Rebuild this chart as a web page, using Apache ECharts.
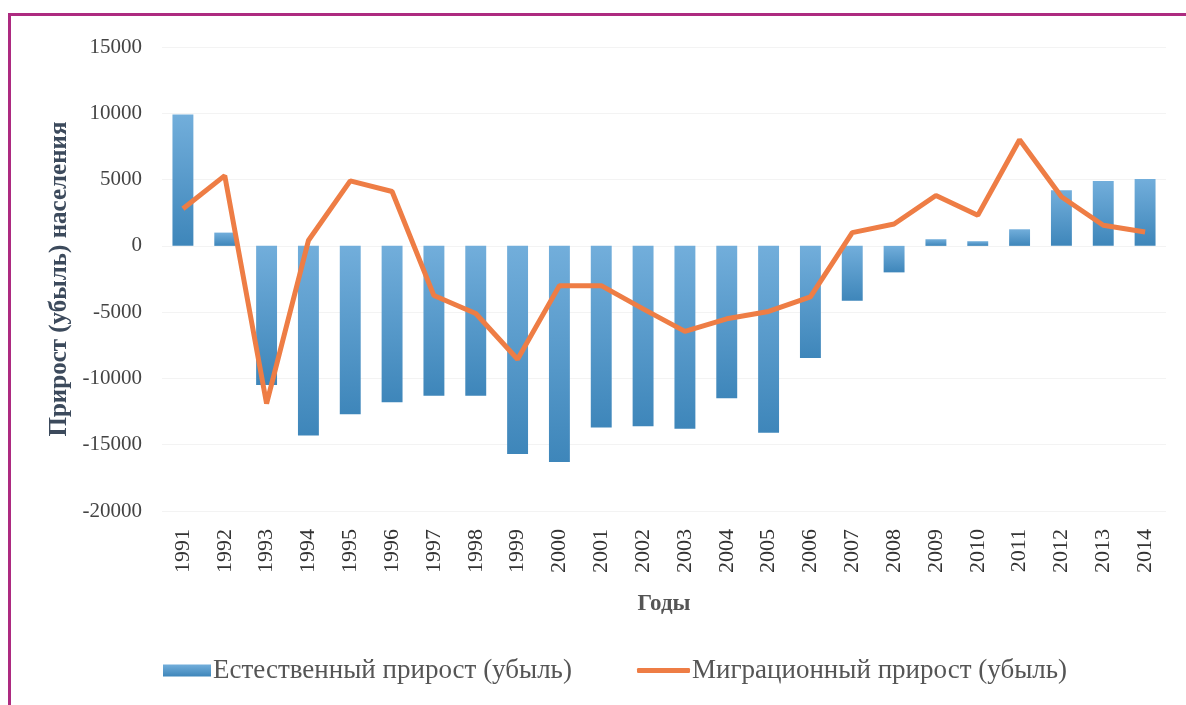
<!DOCTYPE html>
<html>
<head>
<meta charset="utf-8">
<script src="https://cdn.jsdelivr.net/npm/echarts@6/dist/echarts.min.js"></script>
<style>
  html, body { margin: 0; padding: 0; background: #ffffff; overflow: hidden; }
  .frame {
    position: absolute; left: 8px; top: 13px;
    width: 1300px; height: 800px;
    border-top: 3px solid #ad2a80; border-left: 3px solid #ad2a80;
  }
  #main { position: absolute; left: 0; top: 0; width: 1186px; height: 705px; }
</style>
</head>
<body>
<div class="frame"></div>
<div id="main"></div>
<script>
  // годы
  var years = ['1991','1992','1993','1994','1995','1996','1997','1998','1999','2000','2001','2002',
               '2003','2004','2005','2006','2007','2008','2009','2010','2011','2012','2013','2014'];
  // естественный прирост (убыль)
  var natural = [9900, 1000, -10500, -14300, -12700, -11800, -11300, -11300, -15700, -16300, -13700, -13600,
                 -13800, -11500, -14100, -8450, -4150, -2000, 500, 350, 1250, 4200, 4900, 5050];
  // миграционный прирост (убыль)
  var migration = [2800, 5300, -11900, 400, 4900, 4100, -3750, -5100, -8550, -3000, -3000, -4750,
                   -6450, -5500, -4950, -3850, 1000, 1650, 3800, 2300, 8000, 3700, 1550, 1050];

  var font = '"Liberation Serif", "DejaVu Serif", serif';
  var legendText = { fontFamily: font, fontSize: 27, color: '#555555', padding: [0, 0, 0, -3] };

  var myChart = echarts.init(document.getElementById('main'));
  var option = {
    animation: false,
    grid: { left: 162, right: 20, top: 47, bottom: 194 },
    legend: [
      {
        left: 158,
        top: 652,
        itemWidth: 48,
        itemHeight: 12,
        textStyle: legendText,
        data: [{ name: 'Естественный прирост (убыль)', icon: 'rect' }]
      },
      {
        left: 632,
        top: 652,
        itemWidth: 53,
        itemHeight: 5,
        textStyle: legendText,
        data: [{ name: 'Миграционный прирост (убыль)', icon: 'roundRect' }]
      }
    ],
    xAxis: {
      type: 'category',
      data: years,
      name: 'Годы',
      nameLocation: 'middle',
      nameGap: 82,
      nameTextStyle: { fontFamily: font, fontSize: 23, fontWeight: 'bold', color: '#555555' },
      axisLine: { show: false, onZero: false },
      axisTick: { show: false },
      axisLabel: { rotate: 90, fontFamily: font, fontSize: 22, color: '#333333', margin: 18 }
    },
    yAxis: {
      type: 'value',
      min: -20000,
      max: 15000,
      interval: 5000,
      name: 'Прирост (убыль) населения',
      nameLocation: 'middle',
      nameGap: 90,
      nameTextStyle: { fontFamily: font, fontSize: 25, fontWeight: 'bold', color: '#3c4a5c' },
      axisLine: { show: false },
      axisTick: { show: false },
      axisLabel: {
        fontFamily: font, fontSize: 21, color: '#444444', margin: 20,
        formatter: function (v) { return String(v); }
      },
      splitLine: { lineStyle: { color: '#f3f3f3', width: 1 } }
    },
    series: [
      {
        name: 'Естественный прирост (убыль)',
        type: 'bar',
        data: natural,
        barWidth: '50%',
        itemStyle: {
          color: new echarts.graphic.LinearGradient(0, 0, 0, 1, [
            { offset: 0, color: '#72aedb' },
            { offset: 1, color: '#3e86ba' }
          ])
        }
      },
      {
        name: 'Миграционный прирост (убыль)',
        type: 'line',
        data: migration,
        symbol: 'none',
        lineStyle: { color: '#ee7d45', width: 5 },
        itemStyle: { color: '#ee7d45' }
      }
    ]
  };
  myChart.setOption(option);
  window.addEventListener('resize', function () {
    myChart.resize();
  });
</script>
</body>
</html>
